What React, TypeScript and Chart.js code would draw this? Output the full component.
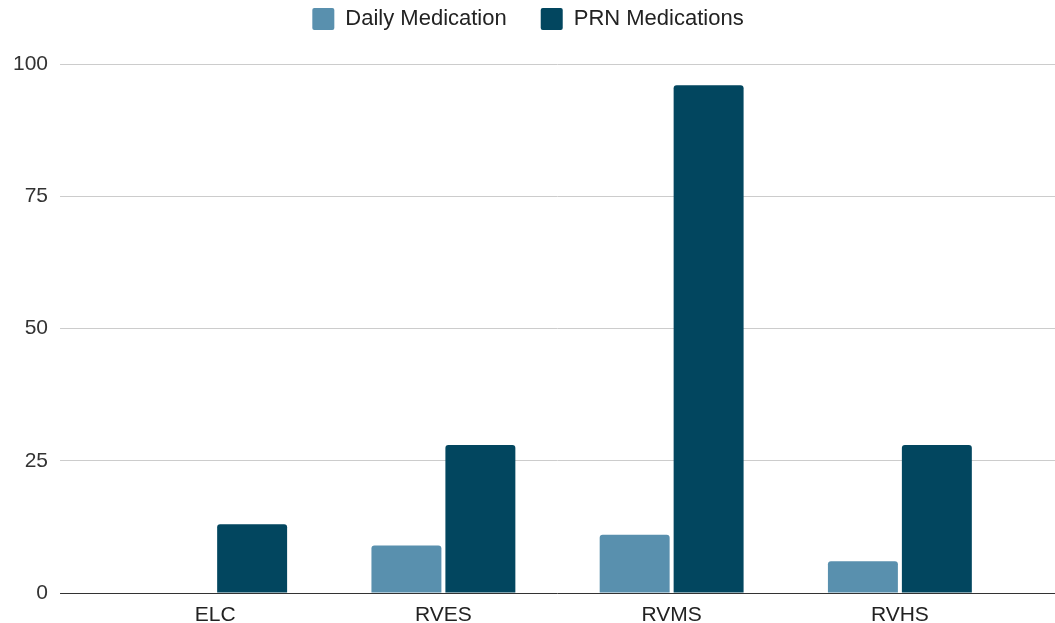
import React, { useEffect, useRef } from "react";
import { Chart, registerables } from "chart.js";

Chart.register(...registerables);

const categories = ["ELC", "RVES", "RVMS", "RVHS"];
const dailyMedication = [0, 9, 11, 6];
const prnMedications = [13, 28, 96, 28];
const seriesNames = ["Daily Medication", "PRN Medications"];
const yTickMax = 100;
const yTickStep = 25;

const FONT = "'Liberation Sans', Arial, sans-serif";
const gridColor = (ctx: any) => (ctx.tick && ctx.tick.value === 0 ? "#333333" : "#cccccc");

const legendSpacer = {
  id: "legendSpacer",
  beforeInit(chart: any) {
    const origFit = chart.legend.fit;
    chart.legend.fit = function fit() {
      origFit.bind(chart.legend)();
      this.height += 24;
    };
  },
};

export default function App() {
  const ref = useRef<HTMLCanvasElement | null>(null);
  useEffect(() => {
    if (!ref.current) return;
    const chart = new Chart(ref.current, {
      type: "bar",
      plugins: [legendSpacer],
      data: {
        labels: categories,
        datasets: [
          {
            label: seriesNames[0],
            data: dailyMedication,
            backgroundColor: "#5990ae",
            borderRadius: { topLeft: 3, topRight: 3, bottomLeft: 0, bottomRight: 0 },
            borderSkipped: false,
            categoryPercentage: 0.648,
            barPercentage: 0.946,
            yAxisID: "y",
          },
          {
            label: seriesNames[1],
            data: prnMedications,
            backgroundColor: "#02465f",
            borderRadius: { topLeft: 3, topRight: 3, bottomLeft: 0, bottomRight: 0 },
            borderSkipped: false,
            categoryPercentage: 0.648,
            barPercentage: 0.946,
            yAxisID: "y",
          },
        ],
      },
      options: {
        animation: false,
        responsive: false,
        maintainAspectRatio: false,
        layout: { padding: { left: 1, right: 0, top: -26, bottom: -15 } },
        plugins: {
          tooltip: { enabled: false },
          legend: {
            position: "top",
            labels: {
              font: { family: FONT, size: 22 },
              color: "#222222",
              boxWidth: 22,
              boxHeight: 22,
              padding: 34,
              useBorderRadius: true,
              borderRadius: 2,
            },
          },
        },
        scales: {
          x: {
            grid: { display: false, drawTicks: false },
            border: { display: false },
            ticks: { font: { family: FONT, size: 21, lineHeight: 1 }, color: "#222222", padding: 12 },
          },
          y: {
            position: "left",
            min: 0,
            max: yTickMax,
            ticks: { stepSize: yTickStep, font: { family: FONT, size: 21 }, color: "#333333", padding: 12 },
            grid: { color: gridColor, tickLength: 41, lineWidth: 1 },
            border: { display: false },
          },
          y2: {
            position: "right",
            min: 0,
            max: yTickMax,
            ticks: { stepSize: yTickStep, display: false },
            grid: { color: gridColor, tickLength: 41, drawOnChartArea: false, lineWidth: 1 },
            border: { display: false },
          },
        },
      },
    });
    return () => chart.destroy();
  }, []);
  return (
    <div style={{ position: "fixed", left: 0, top: 0, width: 1055, height: 623, background: "#fff" }}>
      <canvas ref={ref} width={1055} height={623} style={{ display: "block" }} />
    </div>
  );
}
